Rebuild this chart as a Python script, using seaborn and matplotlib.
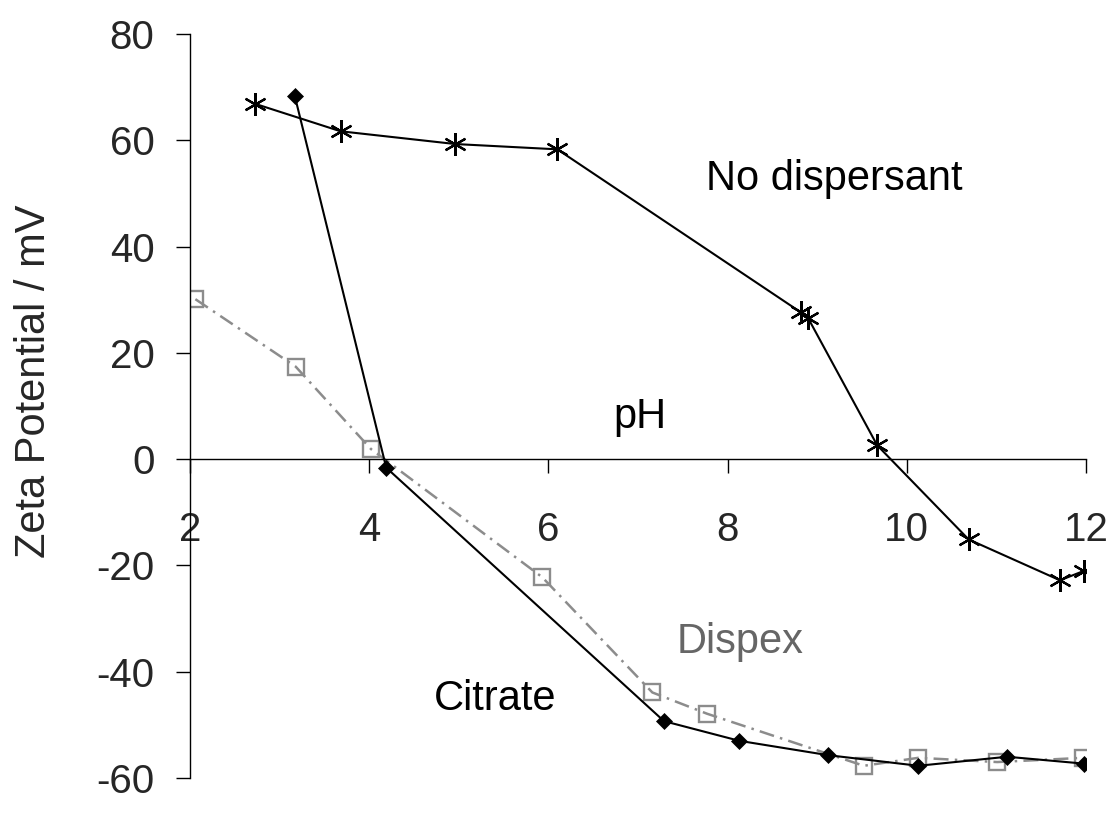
import matplotlib
matplotlib.use("Agg")
import matplotlib.pyplot as plt
import seaborn as sns
import pandas as pd

# --- data ---
nodisp_ph = [2.72, 3.68, 4.96, 6.10, 8.82, 8.90, 9.67, 10.69, 11.71, 11.98]
nodisp_zeta = [66.9, 61.7, 59.3, 58.3, 27.6, 26.5, 2.6, -15.1, -22.8, -21.0]

citrate_ph = [3.17, 4.19, 7.29, 8.13, 9.12, 10.13, 11.12, 11.98]
citrate_zeta = [68.3, -1.6, -49.3, -53.0, -55.7, -57.7, -56.0, -57.3]

dispex_ph = [2.06, 3.18, 4.02, 5.93, 7.16, 7.77, 9.52, 10.13, 11.01, 11.97]
dispex_zeta = [30.1, 17.4, 1.9, -22.2, -43.9, -47.9, -57.7, -56.2, -57.0, -56.2]

x_ticks = [2, 4, 6, 8, 10, 12]
y_ticks = [-60, -40, -20, 0, 20, 40, 60, 80]

sns.set_style("white")
plt.rcParams['font.family'] = ['Liberation Sans', 'DejaVu Sans']

fig = plt.figure(figsize=(11.19, 8.13), dpi=100)
ax = fig.add_axes([0.1698, 0.04305, 0.8007, 0.9151])

df_d = pd.DataFrame({"pH": dispex_ph, "zeta": dispex_zeta})
df_c = pd.DataFrame({"pH": citrate_ph, "zeta": citrate_zeta})
df_n = pd.DataFrame({"pH": nodisp_ph, "zeta": nodisp_zeta})

sns.lineplot(data=df_d, x="pH", y="zeta", ax=ax, sort=False, estimator=None,
             color="#8c8c8c", linewidth=1.8, marker="s", markersize=11,
             markerfacecolor="none", markeredgecolor="#8c8c8c", markeredgewidth=1.7)
ax.lines[-1].set_dashes([6, 2.5, 1, 2.5])

sns.lineplot(data=df_c, x="pH", y="zeta", ax=ax, sort=False, estimator=None,
             color="black", linewidth=1.5, marker="D", markersize=8.5,
             markerfacecolor="black", markeredgecolor="black", markeredgewidth=0.5)

sns.lineplot(data=df_n, x="pH", y="zeta", ax=ax, sort=False, estimator=None,
             color="black", linewidth=1.5, marker=(6, 2, 0), markersize=16.5,
             markeredgecolor="black", markeredgewidth=1.6)

ax.set_xlim(2, 12)
ax.set_ylim(-60, 80)
ax.set_xticks(x_ticks)
ax.set_yticks(y_ticks)
ax.set_xticklabels([str(t) for t in x_ticks])
ax.set_yticklabels([str(t) for t in y_ticks])

for s in ["top", "right"]:
    ax.spines[s].set_visible(False)
ax.spines["bottom"].set_position(("data", 0))
for s in ["left", "bottom"]:
    ax.spines[s].set_color("black")
    ax.spines[s].set_linewidth(1.0)

ax.tick_params(axis="x", direction="out", length=10, width=1, color="black",
               labelsize=29, pad=27, bottom=True)
ax.tick_params(axis="y", direction="out", length=10, width=1, color="black",
               labelsize=29, pad=15.5, left=True)

ax.set_xlabel("")
ax.set_ylabel("Zeta Potential / mV", fontsize=30)
ax.yaxis.set_label_coords(-0.1518, 0.533)

ax.text(9.19, 50.6, "No dispersant", fontsize=30, ha="center", va="baseline", color="black")
ax.text(7.02, 5.8, "pH", fontsize=30, ha="center", va="baseline", color="black")
ax.text(5.40, -47.2, "Citrate", fontsize=30, ha="center", va="baseline", color="black")
ax.text(8.14, -36.5, "Dispex", fontsize=30, ha="center", va="baseline", color="#666666")

fig.savefig("out.png", dpi=100)
